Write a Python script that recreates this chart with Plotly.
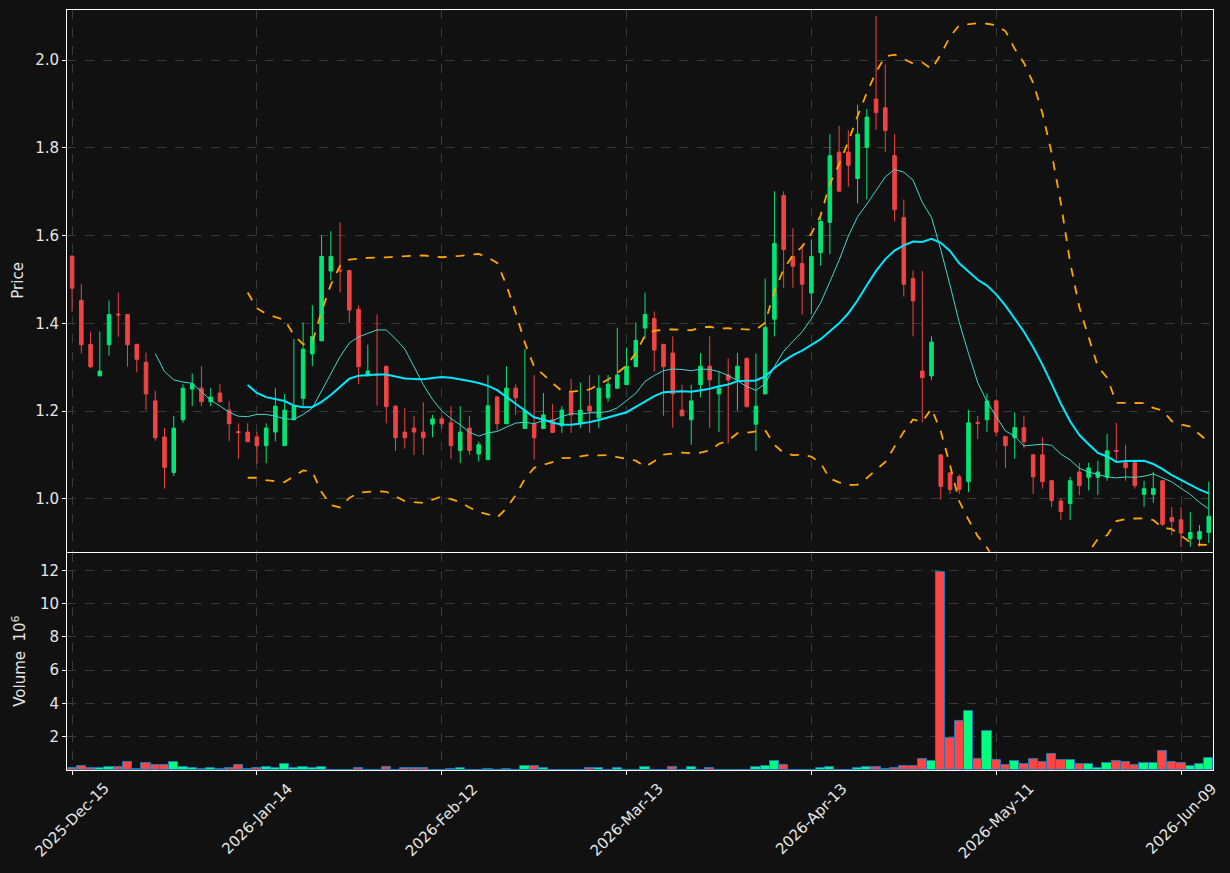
import pandas as pd
import plotly.graph_objects as go
from plotly.subplots import make_subplots

tick_labels = ["2025-Dec-15", "2026-Jan-14", "2026-Feb-12", "2026-Mar-13",
               "2026-Apr-13", "2026-May-11", "2026-Jun-09"]
tick_index = [0, 20, 40, 60, 80, 100, 120]

opens = [1.553, 1.452, 1.352, 1.280, 1.351, 1.421, 1.420, 1.352, 1.311, 1.223,
         1.141, 1.060, 1.180, 1.250, 1.252, 1.221, 1.241, 1.202, 1.153, 1.152,
         1.141, 1.121, 1.152, 1.121, 1.180, 1.229, 1.330, 1.360, 1.519, 1.521,
         1.520, 1.432, 1.280, 1.283, 1.302, 1.211, 1.152, 1.161, 1.152, 1.170,
         1.182, 1.173, 1.110, 1.161, 1.102, 1.089, 1.232, 1.171, 1.252, 1.160,
         1.171, 1.160, 1.180, 1.166, 1.241, 1.171, 1.211, 1.184, 1.230, 1.252,
         1.260, 1.301, 1.389, 1.411, 1.352, 1.332, 1.202, 1.180, 1.260, 1.302,
         1.239, 1.282, 1.271, 1.320, 1.170, 1.239, 1.409, 1.691, 1.552, 1.536,
         1.469, 1.561, 1.630, 1.790, 1.790, 1.730, 1.801, 1.911, 1.891, 1.782,
         1.641, 1.502, 1.291, 1.280, 1.100, 1.059, 1.050, 1.039, 1.174, 1.180,
         1.223, 1.142, 1.139, 1.162, 1.100, 1.100, 1.041, 0.995, 0.989, 1.061,
         1.049, 1.049, 1.049, 1.110, 1.082, 1.082, 1.010, 1.010, 1.041, 0.957,
         0.952, 0.909, 0.908, 0.923]
highs = [1.555, 1.490, 1.381, 1.381, 1.452, 1.470, 1.421, 1.353, 1.333, 1.246,
         1.161, 1.189, 1.261, 1.286, 1.302, 1.252, 1.261, 1.222, 1.172, 1.172,
         1.152, 1.172, 1.252, 1.239, 1.364, 1.402, 1.441, 1.600, 1.610, 1.630,
         1.521, 1.441, 1.351, 1.420, 1.303, 1.213, 1.206, 1.189, 1.220, 1.191,
         1.190, 1.211, 1.211, 1.189, 1.130, 1.282, 1.233, 1.302, 1.261, 1.341,
         1.282, 1.241, 1.216, 1.211, 1.273, 1.265, 1.282, 1.282, 1.282, 1.390,
         1.345, 1.402, 1.470, 1.427, 1.353, 1.370, 1.260, 1.260, 1.332, 1.370,
         1.289, 1.320, 1.332, 1.322, 1.331, 1.502, 1.701, 1.701, 1.617, 1.580,
         1.591, 1.642, 1.831, 1.850, 1.839, 1.898, 1.889, 2.100, 1.990, 1.831,
         1.682, 1.520, 1.519, 1.370, 1.101, 1.060, 1.055, 1.202, 1.189, 1.240,
         1.227, 1.143, 1.197, 1.189, 1.102, 1.140, 1.042, 1.002, 1.050, 1.082,
         1.082, 1.087, 1.148, 1.173, 1.123, 1.083, 1.041, 1.061, 1.042, 0.981,
         0.981, 0.970, 0.940, 1.039]
lows = [1.426, 1.331, 1.297, 1.280, 1.326, 1.369, 1.301, 1.288, 1.202, 1.132,
        1.023, 1.052, 1.173, 1.211, 1.211, 1.211, 1.220, 1.131, 1.091, 1.129,
        1.080, 1.081, 1.131, 1.120, 1.179, 1.211, 1.302, 1.359, 1.498, 1.470,
        1.401, 1.261, 1.279, 1.212, 1.172, 1.109, 1.114, 1.100, 1.100, 1.140,
        1.160, 1.091, 1.081, 1.100, 1.085, 1.088, 1.155, 1.170, 1.191, 1.159,
        1.089, 1.159, 1.150, 1.150, 1.150, 1.161, 1.150, 1.161, 1.221, 1.251,
        1.259, 1.300, 1.364, 1.290, 1.189, 1.162, 1.188, 1.123, 1.231, 1.162,
        1.152, 1.126, 1.201, 1.208, 1.109, 1.238, 1.370, 1.481, 1.481, 1.420,
        1.420, 1.531, 1.557, 1.700, 1.711, 1.673, 1.682, 1.841, 1.790, 1.632,
        1.461, 1.370, 1.174, 1.271, 0.998, 1.011, 1.011, 1.015, 1.136, 1.152,
        1.142, 1.070, 1.091, 1.115, 1.011, 1.023, 0.981, 0.951, 0.951, 1.008,
        1.019, 1.008, 1.041, 1.082, 1.041, 1.023, 0.981, 0.991, 0.938, 0.917,
        0.890, 0.890, 0.891, 0.899]
closes = [1.480, 1.351, 1.301, 1.291, 1.420, 1.419, 1.351, 1.318, 1.239, 1.139,
          1.071, 1.161, 1.252, 1.262, 1.221, 1.232, 1.221, 1.171, 1.151, 1.130,
          1.121, 1.161, 1.211, 1.202, 1.211, 1.341, 1.370, 1.552, 1.552, 1.519,
          1.430, 1.301, 1.291, 1.281, 1.210, 1.139, 1.139, 1.152, 1.139, 1.182,
          1.171, 1.121, 1.152, 1.110, 1.123, 1.212, 1.171, 1.252, 1.230, 1.201,
          1.139, 1.191, 1.151, 1.202, 1.191, 1.202, 1.200, 1.252, 1.261, 1.282,
          1.302, 1.361, 1.420, 1.339, 1.301, 1.239, 1.189, 1.223, 1.302, 1.271,
          1.252, 1.271, 1.302, 1.210, 1.211, 1.390, 1.582, 1.568, 1.530, 1.489,
          1.552, 1.632, 1.782, 1.701, 1.760, 1.831, 1.870, 1.880, 1.839, 1.659,
          1.489, 1.451, 1.276, 1.357, 1.028, 1.021, 1.021, 1.173, 1.172, 1.223,
          1.152, 1.121, 1.162, 1.130, 1.050, 1.039, 0.996, 0.971, 1.041, 1.030,
          1.070, 1.061, 1.109, 1.108, 1.071, 1.030, 1.023, 1.023, 0.942, 0.948,
          0.922, 0.923, 0.925, 0.960]
volumes_m = [0.10, 0.27, 0.13, 0.13, 0.19, 0.19, 0.49, 0.06, 0.43, 0.31,
             0.31, 0.49, 0.19, 0.13, 0.05, 0.13, 0.05, 0.13, 0.31, 0.05,
             0.13, 0.19, 0.13, 0.37, 0.13, 0.19, 0.13, 0.19, 0.03, 0.03,
             0.03, 0.13, 0.03, 0.03, 0.19, 0.03, 0.13, 0.13, 0.13, 0.02,
             0.02, 0.05, 0.13, 0.03, 0.02, 0.05, 0.02, 0.05, 0.03, 0.25,
             0.25, 0.13, 0.03, 0.03, 0.03, 0.03, 0.13, 0.13, 0.03, 0.13,
             0.03, 0.03, 0.19, 0.03, 0.03, 0.19, 0.03, 0.19, 0.03, 0.13,
             0.03, 0.03, 0.03, 0.03, 0.19, 0.25, 0.55, 0.31, 0.03, 0.03,
             0.03, 0.13, 0.19, 0.03, 0.03, 0.13, 0.19, 0.19, 0.05, 0.13,
             0.25, 0.25, 0.67, 0.55, 11.88, 1.90, 2.96, 3.57, 0.67, 2.36,
             0.61, 0.31, 0.55, 0.37, 0.67, 0.49, 0.98, 0.61, 0.61, 0.37,
             0.37, 0.13, 0.43, 0.55, 0.49, 0.31, 0.43, 0.43, 1.16, 0.49,
             0.43, 0.25, 0.37, 0.73]

x = list(range(len(closes)))
close_s = pd.Series(closes)
ma10 = close_s.rolling(10).mean()
ma20 = close_s.rolling(20).mean()
sd20 = close_s.rolling(20).std(ddof=0)
bb_up = ma20 + 2 * sd20
bb_lo = ma20 - 2 * sd20

UP_C = "#00e676"
DN_C = "#ef4444"
VOL_UP = "#00ff80"
VOL_DN = "#ff4545"
BG = "#111111"
GRID = "#3a3a3a"
TXT = "#e6e6e6"
FONT = "DejaVu Sans"

fig = make_subplots(rows=2, cols=1, shared_xaxes=True, vertical_spacing=0.0015,
                    row_heights=[0.714, 0.286])

fig.add_trace(go.Candlestick(
    x=x, open=opens, high=highs, low=lows, close=closes,
    increasing=dict(line=dict(color=UP_C, width=1), fillcolor=UP_C),
    decreasing=dict(line=dict(color=DN_C, width=1), fillcolor=DN_C),
    showlegend=False, name="Price"), row=1, col=1)

fig.add_trace(go.Scatter(x=x, y=ma10, mode="lines",
                         line=dict(color="#40d8cc", width=1), showlegend=False), row=1, col=1)
fig.add_trace(go.Scatter(x=x, y=ma20, mode="lines",
                         line=dict(color="#00e8ff", width=2), showlegend=False), row=1, col=1)
fig.add_trace(go.Scatter(x=x, y=bb_up, mode="lines",
                         line=dict(color="#ffa500", width=1.8, dash="dash"), showlegend=False), row=1, col=1)
fig.add_trace(go.Scatter(x=x, y=bb_lo, mode="lines",
                         line=dict(color="#ffa500", width=1.8, dash="dash"), showlegend=False), row=1, col=1)

vol_colors = [VOL_UP if c >= o else VOL_DN for o, c in zip(opens, closes)]
fig.add_trace(go.Bar(x=x, y=volumes_m, width=1.0,
                     marker=dict(color=vol_colors, line=dict(color="#1f77b4", width=1)),
                     showlegend=False), row=2, col=1)

axis_common = dict(showline=True, linecolor="white", linewidth=1, mirror=True,
                   ticks="outside", tickcolor="white", ticklen=4,
                   showgrid=True, gridcolor=GRID, griddash="dash", gridwidth=1,
                   zeroline=False, automargin=False,
                   tickfont=dict(family=FONT, size=15, color=TXT))

fig.update_xaxes(**axis_common)
fig.update_xaxes(range=[-0.55, 123.46], tickvals=tick_index, ticktext=tick_labels,
                 rangeslider_visible=False, showticklabels=False)

fig.update_yaxes(**axis_common)
fig.update_yaxes(range=[0.879, 2.114], tickvals=[1.0, 1.2, 1.4, 1.6, 1.8, 2.0],
                 ticktext=["1.0", "1.2", "1.4", "1.6", "1.8", "2.0"], row=1, col=1)
fig.update_yaxes(range=[0, 13.04], tickvals=[2, 4, 6, 8, 10, 12], row=2, col=1)

annotations = [
    dict(text="Price", xref="paper", yref="paper", x=-0.0435, y=0.644,
         textangle=-90, showarrow=False, xanchor="center", yanchor="middle",
         font=dict(family=FONT, size=15, color=TXT)),
    dict(text="Volume  10<sup>6</sup>", xref="paper", yref="paper", x=-0.0415, y=0.143,
         textangle=-90, showarrow=False, xanchor="center", yanchor="middle",
         font=dict(family=FONT, size=15, color=TXT)),
]
for ti, tl in zip(tick_index, tick_labels):
    annotations.append(dict(text=tl, xref="x2", yref="paper", x=ti, y=0,
                            yshift=-7, textangle=-45, showarrow=False,
                            xanchor="center", yanchor="top",
                            font=dict(family=FONT, size=15, color=TXT)))

fig.update_layout(
    width=1230, height=873,
    paper_bgcolor=BG, plot_bgcolor=BG,
    margin=dict(l=67, r=17, t=10, b=103),
    boxgap=0.45,
    bargap=0,
    showlegend=False,
    font=dict(family=FONT, color=TXT),
    annotations=annotations,
)

fig.write_html("out.html")
